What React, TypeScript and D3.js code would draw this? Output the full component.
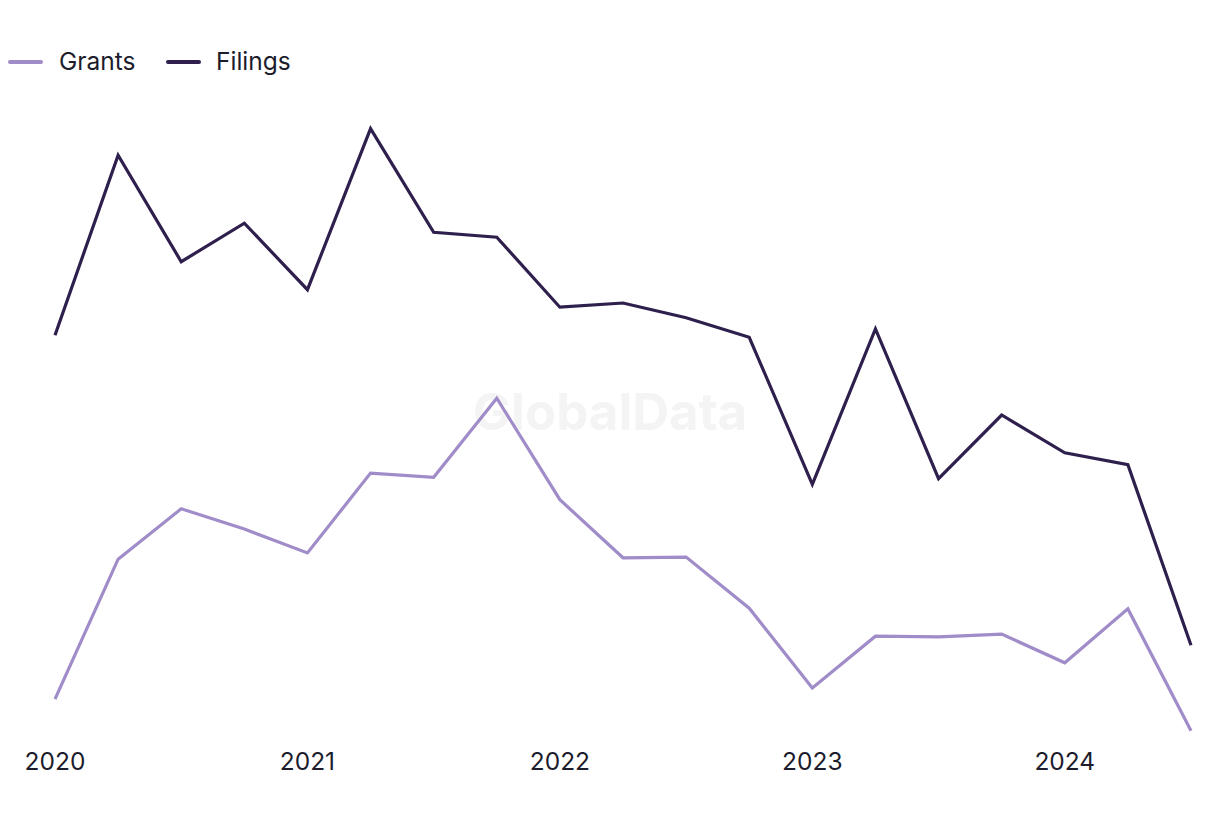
import React from "react";
import * as d3 from "d3";

const quarters = [
  "2020 Q1","2020 Q2","2020 Q3","2020 Q4",
  "2021 Q1","2021 Q2","2021 Q3","2021 Q4",
  "2022 Q1","2022 Q2","2022 Q3","2022 Q4",
  "2023 Q1","2023 Q2","2023 Q3","2023 Q4",
  "2024 Q1","2024 Q2","2024 Q3",
];
const filings = [66.4, 92.1, 76.9, 82.4, 72.9, 95.9, 81.1, 80.4, 70.4, 71.0, 68.9, 66.1, 45.1, 67.3, 45.9, 55.0, 49.6, 47.9, 22.1];
const grants = [14.4, 34.4, 41.6, 38.7, 35.3, 46.7, 46.1, 57.4, 42.9, 34.6, 34.7, 27.4, 16.0, 23.4, 23.3, 23.7, 19.6, 27.3, 9.9];
const tickIdx = [0, 4, 8, 12, 16];
const tickLabels = ["2020", "2021", "2022", "2023", "2024"];

const W = 1220, H = 820;
const FONT = "Inter, 'Noto Sans', sans-serif";
const GRANT_C = "#a08cc8";
const FILING_C = "#2e1f4d";
const TEXT_C = "#1c1c2c";

export default function App() {
  const x = d3.scaleLinear().domain([0, quarters.length - 1]).range([55, 1191]);
  const y = d3.scaleLinear().domain([0, 100]).range([800, 100]);
  const line = d3.line<number>().x((_, i) => x(i)).y((d) => y(d));

  return (
    <svg width={W} height={H} style={{ position: "absolute", left: 0, top: 0, background: "#fff" }}>
      <text x={610} y={430} textAnchor="middle" fontFamily={FONT} fontWeight={700} fontSize={51} fill="#f4f4f4">GlobalData</text>
      <g>
        <line x1={10} x2={41} y1={62} y2={62} stroke={GRANT_C} strokeWidth={4} strokeLinecap="round" />
        <text x={59} y={70} fontFamily={FONT} fontSize={24.5} fill={TEXT_C}>Grants</text>
        <line x1={168} x2={199} y1={62} y2={62} stroke={FILING_C} strokeWidth={4} strokeLinecap="round" />
        <text x={216} y={70} fontFamily={FONT} fontSize={24.5} fill={TEXT_C}>Filings</text>
      </g>
      <path d={line(grants) || ""} fill="none" stroke={GRANT_C} strokeWidth={3.2} strokeLinejoin="miter" />
      <path d={line(filings) || ""} fill="none" stroke={FILING_C} strokeWidth={3.2} strokeLinejoin="miter" />
      {tickIdx.map((t, i) => (
        <text key={t} x={x(t)} y={770} textAnchor="middle" fontFamily={FONT} fontSize={24.5} fill={TEXT_C}>{tickLabels[i]}</text>
      ))}
    </svg>
  );
}
